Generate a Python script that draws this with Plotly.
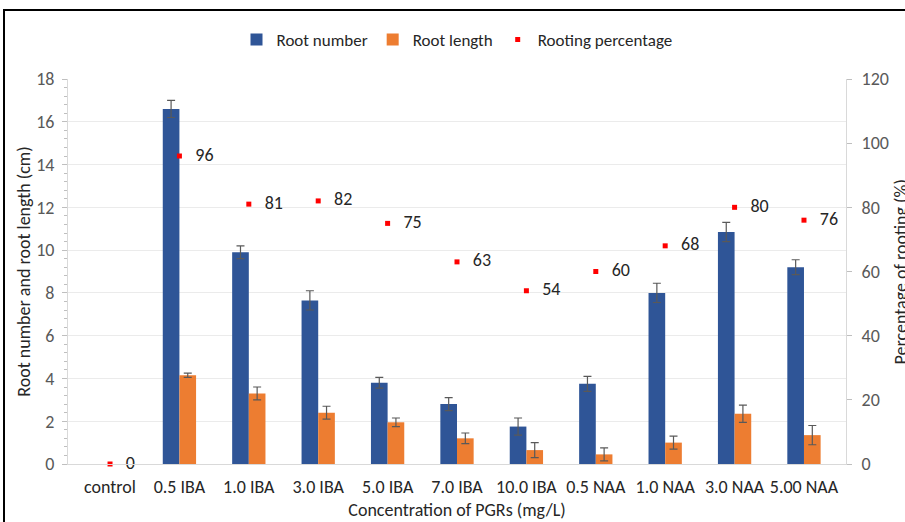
import plotly.graph_objects as go

categories = ["control", "0.5 IBA", "1.0 IBA", "3.0 IBA", "5.0 IBA", "7.0 IBA",
              "10.0 IBA", "0.5 NAA", "1.0 NAA", "3.0 NAA", "5.00 NAA"]
root_number = [0, 16.6, 9.9, 7.65, 3.8, 2.8, 1.75, 3.75, 8.0, 10.85, 9.2]
root_number_err = [0, 0.4, 0.3, 0.45, 0.25, 0.3, 0.4, 0.35, 0.45, 0.45, 0.35]
root_length = [0, 4.15, 3.3, 2.4, 1.95, 1.2, 0.65, 0.45, 1.0, 2.35, 1.35]
root_length_err = [0, 0.1, 0.3, 0.3, 0.2, 0.25, 0.35, 0.3, 0.3, 0.4, 0.45]
rooting_pct = [0, 96, 81, 82, 75, 63, 54, 60, 68, 80, 76]

W, H = 905, 522
L, R, T, B = 68, 59, 79, 58
pw, ph = W - L - R, H - T - B

def px(x):
    return (x - L) / pw

def py(y):
    return (H - B - y) / ph

FONT = "Carlito, Calibri, Lato, sans-serif"
DARK = "#262626"

# zero-height bars are drawn as nothing (no bar, no error cap), as in the reference
rn_plot = [v if v else None for v in root_number]
rl_plot = [v if v else None for v in root_length]

fig = go.Figure()
fig.add_trace(go.Bar(
    x=categories, y=rn_plot, name="Root number",
    marker=dict(color="#2F5597", line=dict(width=0)),
    error_y=dict(type="data", array=root_number_err, color="#595959", thickness=1.2, width=4),
))
fig.add_trace(go.Bar(
    x=categories, y=rl_plot, name="Root length",
    marker=dict(color="#ED7D31", line=dict(width=0)),
    error_y=dict(type="data", array=root_length_err, color="#595959", thickness=1.2, width=4),
))
fig.add_trace(go.Scatter(
    x=categories, y=rooting_pct, name="Rooting percentage", yaxis="y2",
    mode="markers+text",
    marker=dict(color="#FF0000", symbol="square", size=5),
    text=["  \u2009" + str(v) for v in rooting_pct],
    textposition="middle right",
    textfont=dict(family=FONT, size=18, color=DARK),
    cliponaxis=False,
))

fig.update_layout(
    width=W, height=H,
    margin=dict(l=L, r=R, t=T, b=B, autoexpand=False),
    paper_bgcolor="white", plot_bgcolor="white",
    barmode="group", bargap=0.52, bargroupgap=0,
    font=dict(family=FONT, size=18, color="#595959"),
    showlegend=True,
    legend=dict(orientation="h", x=0.5, xanchor="center", y=py(40), yanchor="middle",
                font=dict(family=FONT, size=17, color=DARK),
                itemwidth=30, tracegroupgap=0),
    xaxis=dict(
        automargin=False,
        showline=True, linecolor="#D9D9D9", linewidth=1,
        ticks="outside", ticklen=6, tickcolor="rgba(0,0,0,0)",
        tickfont=dict(family=FONT, size=18, color=DARK),
        title=dict(text="Concentration of PGRs (mg/L)",
                   font=dict(family=FONT, size=18, color=DARK), standoff=6),
    ),
    yaxis=dict(
        automargin=False,
        range=[0, 18], dtick=2, tick0=0,
        showgrid=True, gridcolor="#EBEBEB", gridwidth=1,
        showline=True, linecolor="#D9D9D9", linewidth=1,
        ticks="outside", ticklen=5, tickcolor="#BFBFBF",
        minor=dict(dtick=0.4, ticks="outside", ticklen=3, tickcolor="#BFBFBF", showgrid=False),
        tickfont=dict(family=FONT, size=18, color="#595959"),
        ticklabelstandoff=4,
        zeroline=False,
        title=dict(text="Root number and root length (cm)",
                   font=dict(family=FONT, size=18, color=DARK), standoff=0),
    ),
    yaxis2=dict(
        automargin=False,
        range=[0, 120], dtick=20, overlaying="y", side="right",
        showgrid=False, showline=True, linecolor="#D9D9D9", linewidth=1,
        ticks="outside", ticklen=5, tickcolor="#BFBFBF",
        tickfont=dict(family=FONT, size=18, color="#595959"),
        ticklabelstandoff=6,
        zeroline=False,
    ),
    annotations=[dict(
        text="Percentage of rooting (%)", textangle=-90,
        xref="paper", yref="paper", x=px(900), y=0.5,
        xanchor="center", yanchor="middle", showarrow=False,
        font=dict(family=FONT, size=18, color=DARK),
    )],
    shapes=[dict(
        type="rect", xref="paper", yref="paper",
        x0=px(4), x1=px(W + 20), y0=py(H + 20), y1=py(10),
        line=dict(color="black", width=2), fillcolor="rgba(0,0,0,0)", layer="above",
    )],
)

fig.write_html(
    "out.html",
    config={"displayModeBar": False},
    post_script="document.body.style.margin='0';document.body.style.overflow='hidden';",
)
